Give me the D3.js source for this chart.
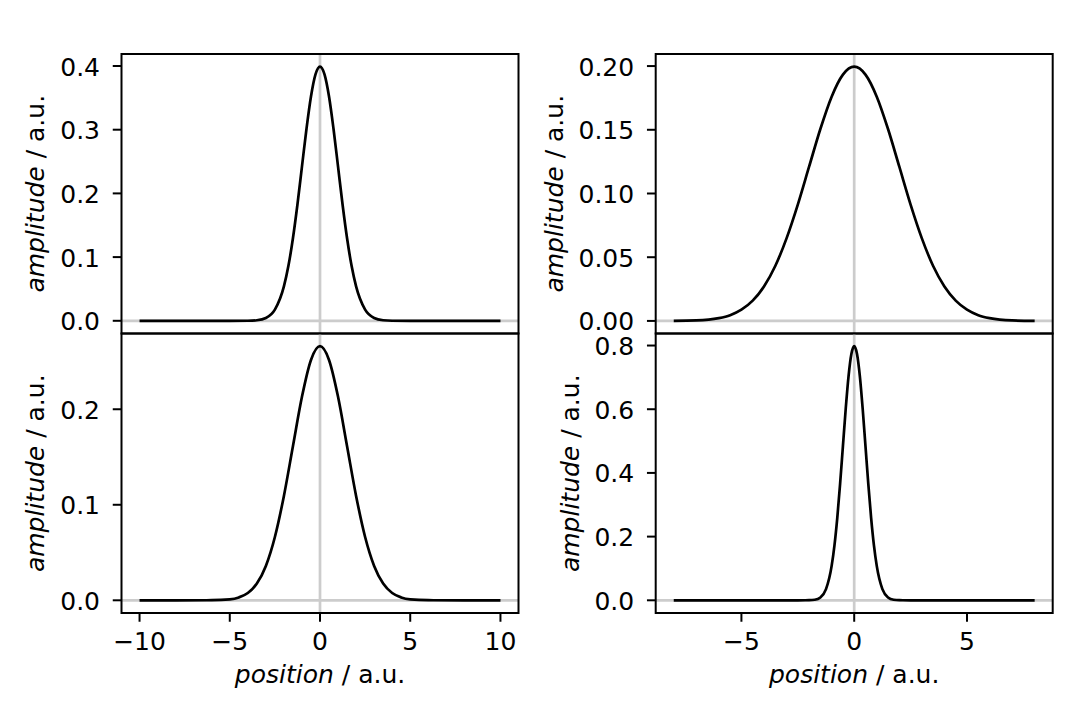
<!DOCTYPE html>
<html>
<head>
<meta charset="utf-8">
<script src="https://cdn.jsdelivr.net/npm/d3@7"></script>
<style>
  html, body { margin: 0; padding: 0; background: #fff; }
  svg { display: block; font-family: 'DejaVu Sans', sans-serif; }
</style>
</head>
<body>
<svg id="chart" width="1080" height="720"></svg>
<script>
'use strict'

// values (position, amplitude)
const xWide = [-10, -8, -6, -5, -4, -3.5, -3, -2.5, -2, -1.75, -1.5, -1.25, -1, -0.75, -0.5, -0.25, 0,
    0.25, 0.5, 0.75, 1, 1.25, 1.5, 1.75, 2, 2.5, 3, 3.5, 4, 5, 6, 8, 10]
const yTopLeft = [0, 0, 0, 0, 0.0001, 0.0009, 0.0044, 0.0175, 0.0540, 0.0863, 0.1295, 0.1826, 0.2420, 0.3011, 0.3521, 0.3867, 0.3989,
    0.3867, 0.3521, 0.3011, 0.2420, 0.1826, 0.1295, 0.0863, 0.0540, 0.0175, 0.0044, 0.0009, 0.0001, 0, 0, 0, 0]

const xWide2 = [-10, -8, -6, -5, -4.5, -4, -3.5, -3, -2.5, -2, -1.5, -1, -0.5, 0,
    0.5, 1, 1.5, 2, 2.5, 3, 3.5, 4, 4.5, 5, 6, 8, 10]
const yBottomLeft = [0, 0, 0.0001, 0.0010, 0.0030, 0.0076, 0.0175, 0.0360, 0.0663, 0.1093, 0.1613, 0.2130, 0.2516, 0.2660,
    0.2516, 0.2130, 0.1613, 0.1093, 0.0663, 0.0360, 0.0175, 0.0076, 0.0030, 0.0010, 0.0001, 0, 0]

const xNarrow = [-8, -7, -6, -5.5, -5, -4.5, -4, -3.5, -3, -2.5, -2, -1.5, -1, -0.5, 0,
    0.5, 1, 1.5, 2, 2.5, 3, 3.5, 4, 4.5, 5, 5.5, 6, 7, 8]
const yTopRight = [0.0001, 0.0004, 0.0022, 0.0045, 0.0088, 0.0159, 0.0270, 0.0431, 0.0648, 0.0913, 0.1210, 0.1506, 0.1760, 0.1933, 0.1995,
    0.1933, 0.1760, 0.1506, 0.1210, 0.0913, 0.0648, 0.0431, 0.0270, 0.0159, 0.0088, 0.0045, 0.0022, 0.0004, 0.0001]

const xNarrow2 = [-8, -6, -4, -2.5, -2, -1.75, -1.5, -1.25, -1, -0.875, -0.75, -0.625, -0.5, -0.375, -0.25, -0.125, 0,
    0.125, 0.25, 0.375, 0.5, 0.625, 0.75, 0.875, 1, 1.25, 1.5, 1.75, 2, 2.5, 4, 6, 8]
const yBottomRight = [0, 0, 0, 0, 0.0003, 0.0017, 0.0089, 0.0350, 0.1080, 0.1726, 0.2591, 0.3653, 0.4839, 0.6023, 0.7041, 0.7733, 0.7979,
    0.7733, 0.7041, 0.6023, 0.4839, 0.3653, 0.2591, 0.1726, 0.1080, 0.0350, 0.0089, 0.0017, 0.0003, 0, 0, 0, 0]

// tick labels
const xTicksWide = [-10, -5, 0, 5, 10]
const xTicksNarrow = [-5, 0, 5]
const yTicksTopLeft = [0, 0.1, 0.2, 0.3, 0.4]
const yTicksTopRight = [0, 0.05, 0.1, 0.15, 0.2]
const yTicksBottomLeft = [0, 0.1, 0.2]
const yTicksBottomRight = [0, 0.2, 0.4, 0.6, 0.8]

const svg = d3.select('#chart')
const fontSize = 25
const tickLen = 8.75

const cols = [121.5, 655.7]
const rows = [54, 333.5]
const panelW = 397
const panelH = 279.5

const panels = [
    { col: 0, row: 0, xs: xWide, ys: yTopLeft, xTicks: xTicksWide, yTicks: yTicksTopLeft, yFmt: '.1f' },
    { col: 1, row: 0, xs: xNarrow, ys: yTopRight, xTicks: xTicksNarrow, yTicks: yTicksTopRight, yFmt: '.2f' },
    { col: 0, row: 1, xs: xWide2, ys: yBottomLeft, xTicks: xTicksWide, yTicks: yTicksBottomLeft, yFmt: '.1f' },
    { col: 1, row: 1, xs: xNarrow2, ys: yBottomRight, xTicks: xTicksNarrow, yTicks: yTicksBottomRight, yFmt: '.1f' },
]

// matplotlib style 5% margins around the data
function padded(extent) {
    const span = extent[1] - extent[0]
    return [extent[0] - span * 0.05, extent[1] + span * 0.05]
}

panels.forEach((p, i) => {
    const left = cols[p.col]
    const top = rows[p.row]
    const pts = p.xs.map((x, k) => [x, p.ys[k]])

    const x = d3.scaleLinear().domain(padded(d3.extent(p.xs))).range([left, left + panelW])
    const y = d3.scaleLinear().domain(padded(d3.extent(p.ys))).range([top + panelH, top])

    const g = svg.append('g')

    g.append('clipPath').attr('id', 'clip' + i)
        .append('rect').attr('x', left).attr('y', top).attr('width', panelW).attr('height', panelH)

    const inner = g.append('g').attr('clip-path', `url(#clip${i})`)

    // zero reference lines
    inner.append('line')
        .attr('x1', left).attr('x2', left + panelW)
        .attr('y1', y(0)).attr('y2', y(0))
        .attr('stroke', '#cccccc').attr('stroke-width', 2.7)
    inner.append('line')
        .attr('x1', x(0)).attr('x2', x(0))
        .attr('y1', top).attr('y2', top + panelH)
        .attr('stroke', '#cccccc').attr('stroke-width', 2.7)

    const line = d3.line()
        .x((d) => x(d[0]))
        .y((d) => y(d[1]))
        .curve(d3.curveMonotoneX)

    inner.append('path')
        .datum(pts)
        .attr('d', line)
        .attr('fill', 'none')
        .attr('stroke', '#000')
        .attr('stroke-width', 2.7)
        .attr('stroke-linejoin', 'round')

    // frame
    g.append('rect')
        .attr('x', left).attr('y', top).attr('width', panelW).attr('height', panelH)
        .attr('fill', 'none').attr('stroke', '#000').attr('stroke-width', 2)

    // y ticks
    const fmt = d3.format(p.yFmt)
    const yLabels = []
    p.yTicks.forEach((t) => {
        g.append('line')
            .attr('x1', left - tickLen).attr('x2', left)
            .attr('y1', y(t)).attr('y2', y(t))
            .attr('stroke', '#000').attr('stroke-width', 2)
        const lbl = g.append('text')
            .attr('x', left - 21.5)
            .attr('y', y(t) + 9.5)
            .attr('text-anchor', 'end')
            .attr('font-size', fontSize)
            .text(fmt(t))
        yLabels.push(lbl.node())
    })

    const minX = d3.min(yLabels, (n) => n.getBBox().x)
    const cy = top + panelH / 2
    const lx = minX - 10 - 0.236 * fontSize
    const ylab = g.append('text')
        .attr('transform', `translate(${lx},${cy}) rotate(-90)`)
        .attr('text-anchor', 'middle')
        .attr('font-size', fontSize)
    ylab.append('tspan').attr('font-style', 'italic').text('amplitude')
    ylab.append('tspan').text(' / a.u.')

    // x ticks only on the bottom row
    if (p.row === 1) {
        const bottom = top + panelH
        p.xTicks.forEach((t) => {
            g.append('line')
                .attr('x1', x(t)).attr('x2', x(t))
                .attr('y1', bottom).attr('y2', bottom + tickLen)
                .attr('stroke', '#000').attr('stroke-width', 2)
            g.append('text')
                .attr('x', x(t))
                .attr('y', bottom + 37)
                .attr('text-anchor', 'middle')
                .attr('font-size', fontSize)
                .text(d3.format('d')(t))
        })

        const xlab = g.append('text')
            .attr('x', left + panelW / 2)
            .attr('y', bottom + 70)
            .attr('text-anchor', 'middle')
            .attr('font-size', fontSize)
        xlab.append('tspan').attr('font-style', 'italic').text('position')
        xlab.append('tspan').text(' / a.u.')
    }
})
</script>
</body>
</html>
